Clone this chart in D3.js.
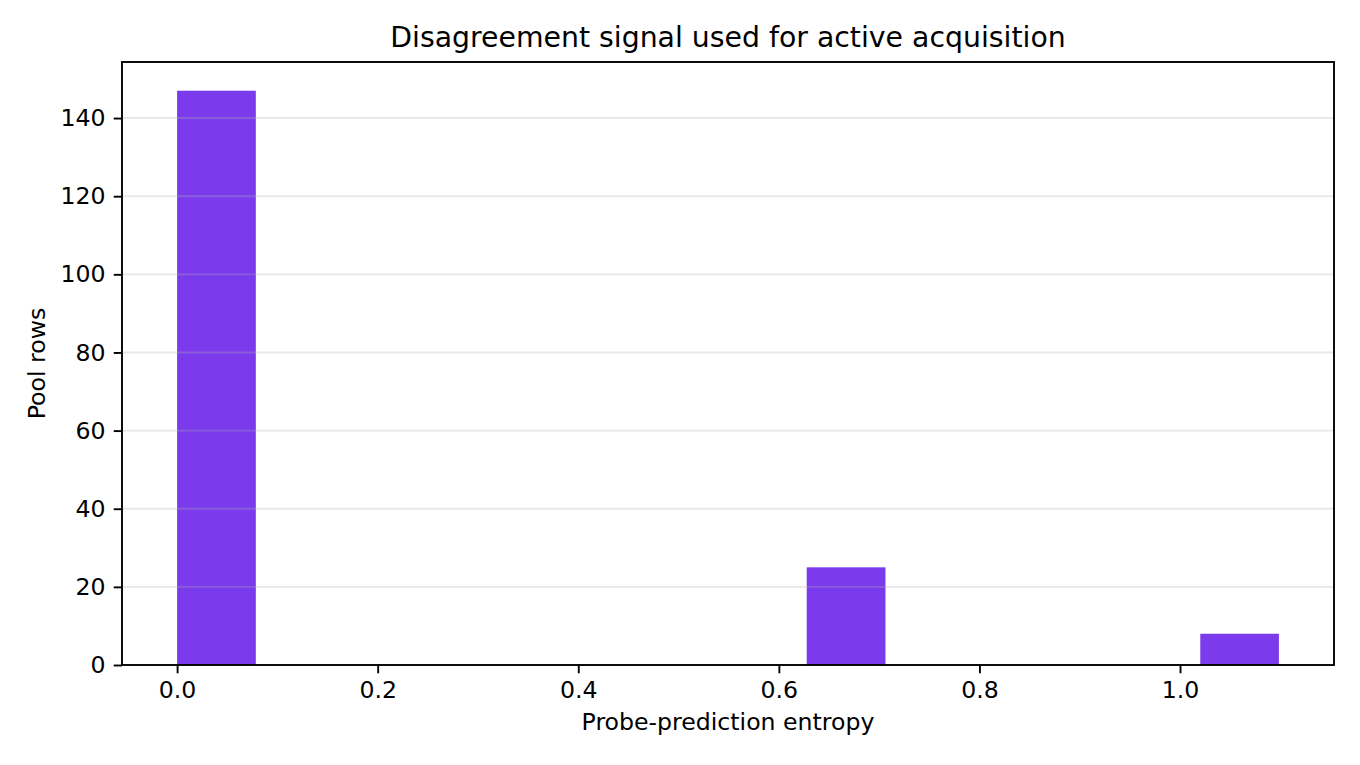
<!DOCTYPE html>
<html>
<head>
<meta charset="utf-8">
<script src="https://cdn.jsdelivr.net/npm/d3@7"></script>
<style>
  body { margin: 0; background: #fff; }
</style>
</head>
<body>
<svg id="chart" width="1360" height="765" font-family="DejaVu Sans, sans-serif"></svg>
<script>
// histogram of probe-prediction entropy, 14 bins from 0 to ln(3)
var binLo = [0.0, 0.0785, 0.1570, 0.2354, 0.3139, 0.3924, 0.4709, 0.5493, 0.6278, 0.7063, 0.7848, 0.8632, 0.9417, 1.0202];
var binHi = [0.0785, 0.1570, 0.2354, 0.3139, 0.3924, 0.4709, 0.5493, 0.6278, 0.7063, 0.7848, 0.8632, 0.9417, 1.0202, 1.0986];
var counts = [147, 0, 0, 0, 0, 0, 0, 0, 25, 0, 0, 0, 0, 8];
var xTicks = [0.0, 0.2, 0.4, 0.6, 0.8, 1.0];
var yTicks = [0, 20, 40, 60, 80, 100, 120, 140];

var svg = d3.select("#chart");
// plot box (named to avoid clashing with window.top)
var pLeft = 122, pRight = 1334, pTop = 62, pBottom = 665;
var pt = 170 / 72;  // figure was saved at 170 dpi

var xmax = d3.max(binHi), xpad = xmax * 0.05;
var x = d3.scaleLinear().domain([-xpad, xmax + xpad]).range([pLeft, pRight]);
var ymax = d3.max(counts) * 1.05;
var y = d3.scaleLinear().domain([0, ymax]).range([pBottom, pTop]);

var bins = counts.map(function(c, i) { return {lo: binLo[i], hi: binHi[i], n: c}; });

// bars
svg.append("g").selectAll("rect")
    .data(bins.filter(function(d) { return d.n > 0; }))
    .enter().append("rect")
    .attr("x", function(d) { return x(d.lo); })
    .attr("width", function(d) { return x(d.hi) - x(d.lo); })
    .attr("y", function(d) { return y(d.n); })
    .attr("height", function(d) { return y(0) - y(d.n); })
    .attr("fill", "#7c3aed");

// y grid (drawn over bars, like the original)
svg.append("g").selectAll("line")
    .data(yTicks.filter(function(d) { return d > 0; }))
    .enter().append("line")
    .attr("x1", pLeft).attr("x2", pRight)
    .attr("y1", function(d) { return y(d); })
    .attr("y2", function(d) { return y(d); })
    .attr("stroke", "#b0b0b0")
    .attr("stroke-opacity", 0.3)
    .attr("stroke-width", 0.8 * pt);

// axes
var xAxis = d3.axisBottom(x).tickValues(xTicks).tickFormat(d3.format(".1f"))
    .tickSizeInner(3.5 * pt).tickSizeOuter(0).tickPadding(3.5 * pt);
var yAxis = d3.axisLeft(y).tickValues(yTicks).tickFormat(d3.format("d"))
    .tickSizeInner(3.5 * pt).tickSizeOuter(0).tickPadding(3.5 * pt);

var gx = svg.append("g").attr("transform", "translate(0," + pBottom + ")").call(xAxis);
var gy = svg.append("g").attr("transform", "translate(" + pLeft + ",0)").call(yAxis);
[gx, gy].forEach(function(g) {
    g.attr("font-size", 10 * pt).attr("font-family", "DejaVu Sans, sans-serif");
    g.select(".domain").remove();
    g.selectAll(".tick line").attr("stroke", "#000").attr("stroke-width", 0.8 * pt);
    g.selectAll(".tick text").attr("fill", "#000");
});

// frame
svg.append("rect")
    .attr("x", pLeft).attr("y", pTop)
    .attr("width", pRight - pLeft).attr("height", pBottom - pTop)
    .attr("fill", "none").attr("stroke", "#000").attr("stroke-width", 0.8 * pt);

// labels
svg.append("text")
    .attr("x", (pLeft + pRight) / 2).attr("y", 47)
    .attr("text-anchor", "middle").attr("font-size", 12 * pt)
    .text("Disagreement signal used for active acquisition");
svg.append("text")
    .attr("x", (pLeft + pRight) / 2).attr("y", 730)
    .attr("text-anchor", "middle").attr("font-size", 10 * pt)
    .text("Probe-prediction entropy");
svg.append("text")
    .attr("transform", "translate(45," + (pTop + pBottom) / 2 + ") rotate(-90)")
    .attr("text-anchor", "middle").attr("font-size", 10 * pt)
    .text("Pool rows");
</script>
</body>
</html>
